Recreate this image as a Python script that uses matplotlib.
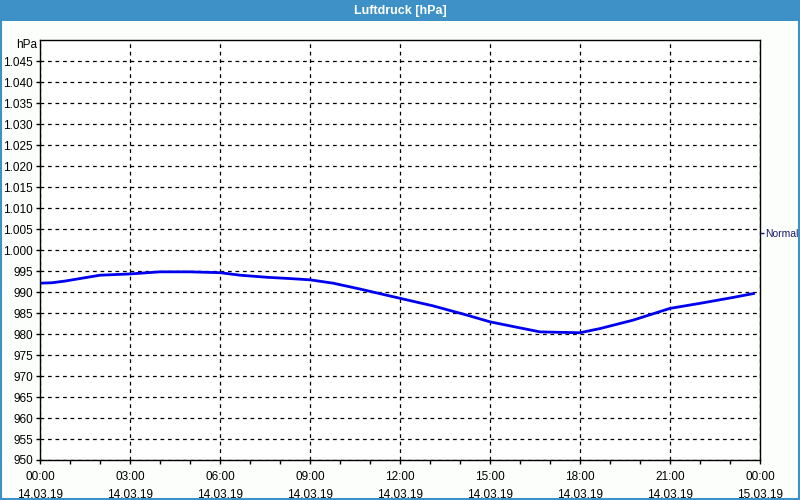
import matplotlib.pyplot as plt
from matplotlib.patches import Rectangle
import numpy as np

# hours after 14.03.19 00:00
hours = [0, 0.4, 0.83, 1.33, 2, 3, 4, 5, 6, 6.67, 7.57, 8.33, 9, 9.77, 10.67,
         12, 13.1, 14.23, 15, 15.9, 16.67, 18, 18.67, 19.77, 21, 22, 23.1, 23.83]
pressure = [992.1, 992.2, 992.6, 993.2, 994.0, 994.3, 994.8, 994.8, 994.6, 994.0,
            993.5, 993.2, 992.9, 992.1, 990.7, 988.5, 986.7, 984.5, 982.9, 981.6,
            980.5, 980.3, 981.3, 983.3, 986.1, 987.3, 988.7, 989.7]

x_ticks = [0, 3, 6, 9, 12, 15, 18, 21, 24]
x_labels = ["00:00\n14.03.19", "03:00\n14.03.19", "06:00\n14.03.19", "09:00\n14.03.19",
            "12:00\n14.03.19", "15:00\n14.03.19", "18:00\n14.03.19", "21:00\n14.03.19",
            "00:00\n15.03.19"]
y_ticks = list(range(950, 1050, 5))
normal_value = 1004

plt.rcParams['font.family'] = ['Liberation Sans', 'DejaVu Sans']
fig = plt.figure(figsize=(8, 5), dpi=100, facecolor="#fcfefc")

# title bar and frame
bar_col = "#3d91c7"
fig.patches.append(Rectangle((0, 0.958), 1, 0.042, transform=fig.transFigure,
                             facecolor=bar_col, edgecolor="none", zorder=0))
fig.patches.append(Rectangle((0.001, 0.002), 0.998, 0.996, transform=fig.transFigure,
                             facecolor="none", edgecolor=bar_col, linewidth=1.5, zorder=0))
fig.text(0.5, 0.978, "Luftdruck [hPa]", color="white", fontsize=9,
         fontweight="bold", ha="center", va="center")

ax = fig.add_axes([0.05, 0.08, 0.9, 0.84])
ax.set_facecolor("white")
ax.plot(hours, pressure, color="#0000ee", linewidth=2, solid_capstyle="butt")

ax.set_xlim(0, 24)
ax.set_ylim(950, 1050)
ax.set_xticks(x_ticks)
ax.set_xticklabels(x_labels, fontsize=8.5, linespacing=1.6)
ax.set_xticks(range(0, 25), minor=True)
ax.set_yticks(y_ticks)
ax.set_yticklabels([f"{v:,}".replace(",", ".") for v in y_ticks], fontsize=8.5)

ax.grid(True, which="major", color="black", linestyle=(0, (3, 3)), linewidth=0.9)
ax.tick_params(axis="both", which="major", length=3, width=1, color="black", pad=2)
ax.tick_params(axis="x", which="minor", length=3, width=1)
ax.tick_params(axis="x", pad=5)
for s in ax.spines.values():
    s.set_color("black")
    s.set_linewidth(1)

ax.text(-0.004, 0.988, "hPa", transform=ax.transAxes, fontsize=8.5,
        ha="right", va="center")

ax2 = ax.twinx()
ax2.set_ylim(950, 1050)
ax2.set_yticks([normal_value])
ax2.set_yticklabels(["Normal"], fontsize=7.5, color="#1c1c6c")
ax2.tick_params(axis="y", length=3, width=1, colors="#1c1c6c", pad=0.5)
for s in ax2.spines.values():
    s.set_visible(False)

fig.savefig("out.png", dpi=100, facecolor=fig.get_facecolor())
